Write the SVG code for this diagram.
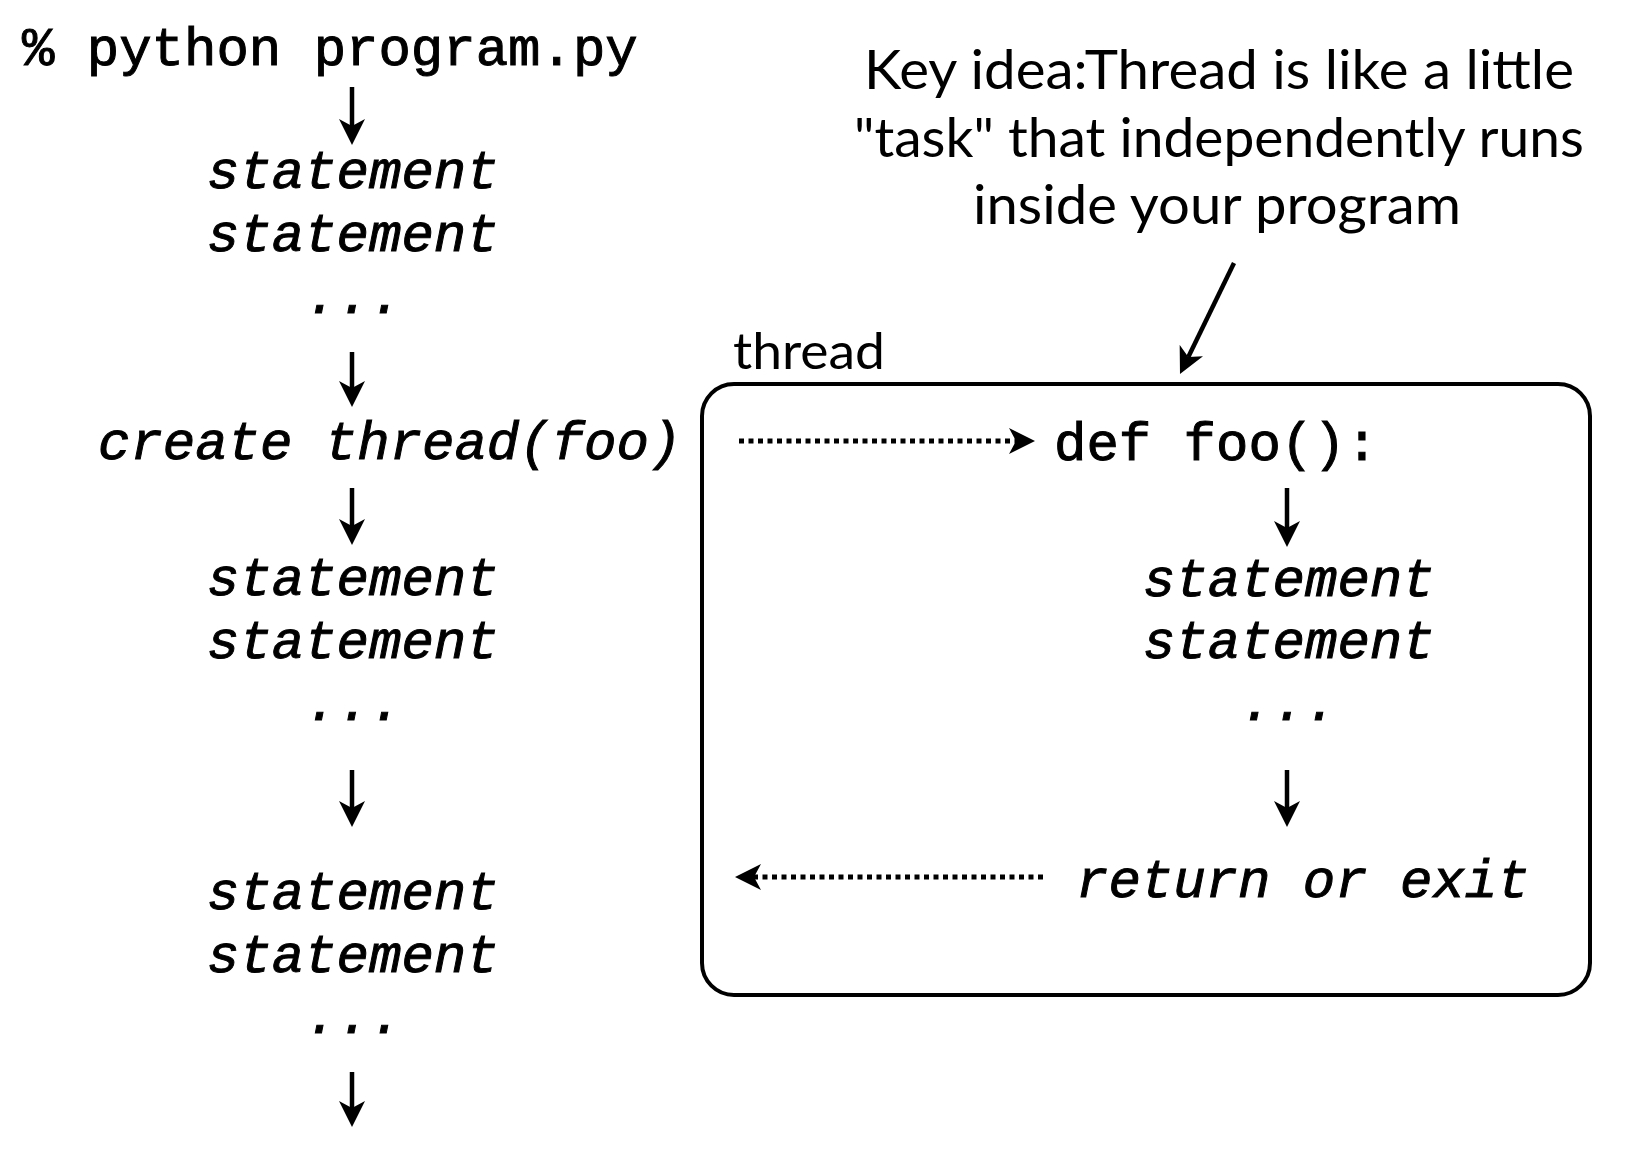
<svg xmlns="http://www.w3.org/2000/svg" width="1636" height="1150" viewBox="0 0 1636 1150">
<style>
.mono{font-family:"Liberation Mono","Courier New",monospace;font-size:54px;fill:#000;stroke:#000;stroke-width:1}
.it{font-style:italic}
.sans{font-family:Lato,"Open Sans",sans-serif;fill:#000}
.arr{stroke:#000;stroke-width:4.5;fill:none;marker-end:url(#ah)}
.dot{stroke:#000;stroke-width:5;fill:none;stroke-dasharray:5 4.5;marker-end:url(#ah)}
</style>
<defs>
<marker id="ah" viewBox="0 0 26 26" markerWidth="26" markerHeight="26" markerUnits="userSpaceOnUse" refX="7" refY="13" orient="auto">
<path d="M0,0 L26,13 L0,26 L7,13 z" fill="#000"/>
</marker>
</defs>
<rect width="1636" height="1150" fill="#fff"/>

<g id="cmd"><text class="mono" x="22" y="65">% python program.py</text></g>
<g id="s1"><text class="mono it" x="207" y="188">statement</text><text class="mono it" x="207" y="251">statement</text><text class="mono it" x="305" y="313">...</text></g>
<g id="create"><text class="mono it" x="98" y="459">create thread(foo)</text></g>
<g id="s2"><text class="mono it" x="207" y="595">statement</text><text class="mono it" x="207" y="658">statement</text><text class="mono it" x="305" y="720">...</text></g>
<g id="s3"><text class="mono it" x="207" y="909">statement</text><text class="mono it" x="207" y="972">statement</text><text class="mono it" x="305" y="1033">...</text></g>

<g id="note">
<text class="sans" font-size="54" x="1219" y="89" text-anchor="middle" textLength="710" lengthAdjust="spacingAndGlyphs">Key idea:Thread is like a little</text>
<text class="sans" font-size="54" x="1219" y="157" text-anchor="middle" textLength="730" lengthAdjust="spacingAndGlyphs">"task" that independently runs</text>
<text class="sans" font-size="54" x="1217" y="224" text-anchor="middle" textLength="488" lengthAdjust="spacingAndGlyphs">inside your program</text>
</g>

<g id="thread">
<rect x="702" y="384" width="888" height="611" rx="32" ry="32" fill="none" stroke="#000" stroke-width="4"/>
<text class="sans" font-size="50" x="733" y="369" textLength="152" lengthAdjust="spacingAndGlyphs">thread</text>
<text class="mono" x="1054" y="460">def foo():</text>
<text class="mono it" x="1143" y="596">statement</text>
<text class="mono it" x="1143" y="658">statement</text>
<text class="mono it" x="1240" y="720">...</text>
<text class="mono it" x="1076" y="897">return or exit</text>
</g>

<g id="connectors">
<line class="arr" x1="352" y1="87" x2="352" y2="126"/>
<line class="arr" x1="352" y1="352" x2="352" y2="388"/>
<line class="arr" x1="352" y1="488" x2="352" y2="526"/>
<line class="arr" x1="352" y1="770" x2="352" y2="808"/>
<line class="arr" x1="352" y1="1072" x2="352" y2="1108"/>
<line class="arr" x1="1287" y1="488" x2="1287" y2="528"/>
<line class="arr" x1="1287" y1="770" x2="1287" y2="808"/>
<line class="arr" x1="1234" y1="263" x2="1188.3" y2="356.9"/>
<line class="dot" x1="739" y1="441" x2="1016" y2="441"/>
<line class="dot" x1="1043" y1="877" x2="754" y2="877"/>
</g>
</svg>
